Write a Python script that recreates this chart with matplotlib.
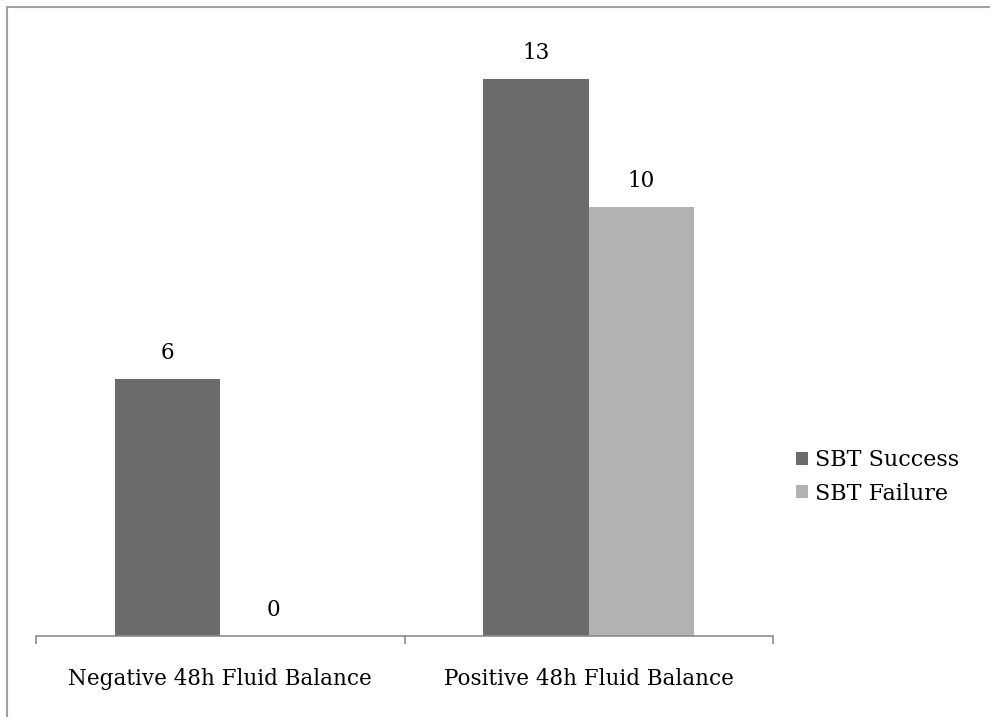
import matplotlib.pyplot as plt
from matplotlib.patches import Rectangle

categories = ['Negative 48h Fluid Balance', 'Positive 48h Fluid Balance']
series_names = ['SBT Success', 'SBT Failure']
success = [6, 13]
failure = [0, 10]

colors = ['#6b6b6b', '#b2b2b2']
plt.rcParams['font.family'] = ['DejaVu Serif']

fig = plt.figure(figsize=(9.9, 7.17), dpi=100)
ax = fig.add_axes([36 / 990, 1 - 636 / 717, 737 / 990, 600 / 717])

x = list(range(len(categories)))
w = 0.2865
b1 = ax.bar([i - w / 2 for i in x], success, w, color=colors[0], label=series_names[0])
b2 = ax.bar([i + w / 2 for i in x], failure, w, color=colors[1], label=series_names[1])

for bars, vals in [(b1, success), (b2, failure)]:
    for bar, v in zip(bars, vals):
        ax.annotate(str(v), (bar.get_x() + bar.get_width() / 2, v),
                    xytext=(0, 11), textcoords='offset points',
                    ha='center', va='bottom', fontsize=15.5)

ax.set_xlim(-0.5, 1.5)
ax.set_ylim(0, 14)
ax.set_xticks([-0.5, 0.5, 1.5])
ax.set_xticklabels([])
ax.set_xticks(x, minor=True)
ax.set_xticklabels(categories, minor=True, fontsize=15.5)
ax.tick_params(axis='x', which='major', length=6, color='#8c8c8c', width=1.2)
ax.tick_params(axis='x', which='minor', length=0, pad=23)
ax.set_yticks([])
for s in ['top', 'right', 'left']:
    ax.spines[s].set_visible(False)
ax.spines['bottom'].set_color('#8c8c8c')
ax.spines['bottom'].set_linewidth(1.2)

ax.legend(loc='center left', bbox_to_anchor=(796 / 990, 1 - 477 / 717),
          bbox_transform=fig.transFigure, frameon=False, fontsize=16,
          handlelength=0.55, handleheight=0.55, handletextpad=0.3, labelspacing=0.5,
          borderpad=0, borderaxespad=0)

# outer chart frame (runs off the right and bottom edges)
fig.patches.append(Rectangle((7 / 990, -0.1), 1.2, 1.1 - 6.5 / 717,
                             transform=fig.transFigure, fill=False,
                             edgecolor='#a0a0a0', linewidth=1.5))

fig.savefig('out.png', dpi=100)
